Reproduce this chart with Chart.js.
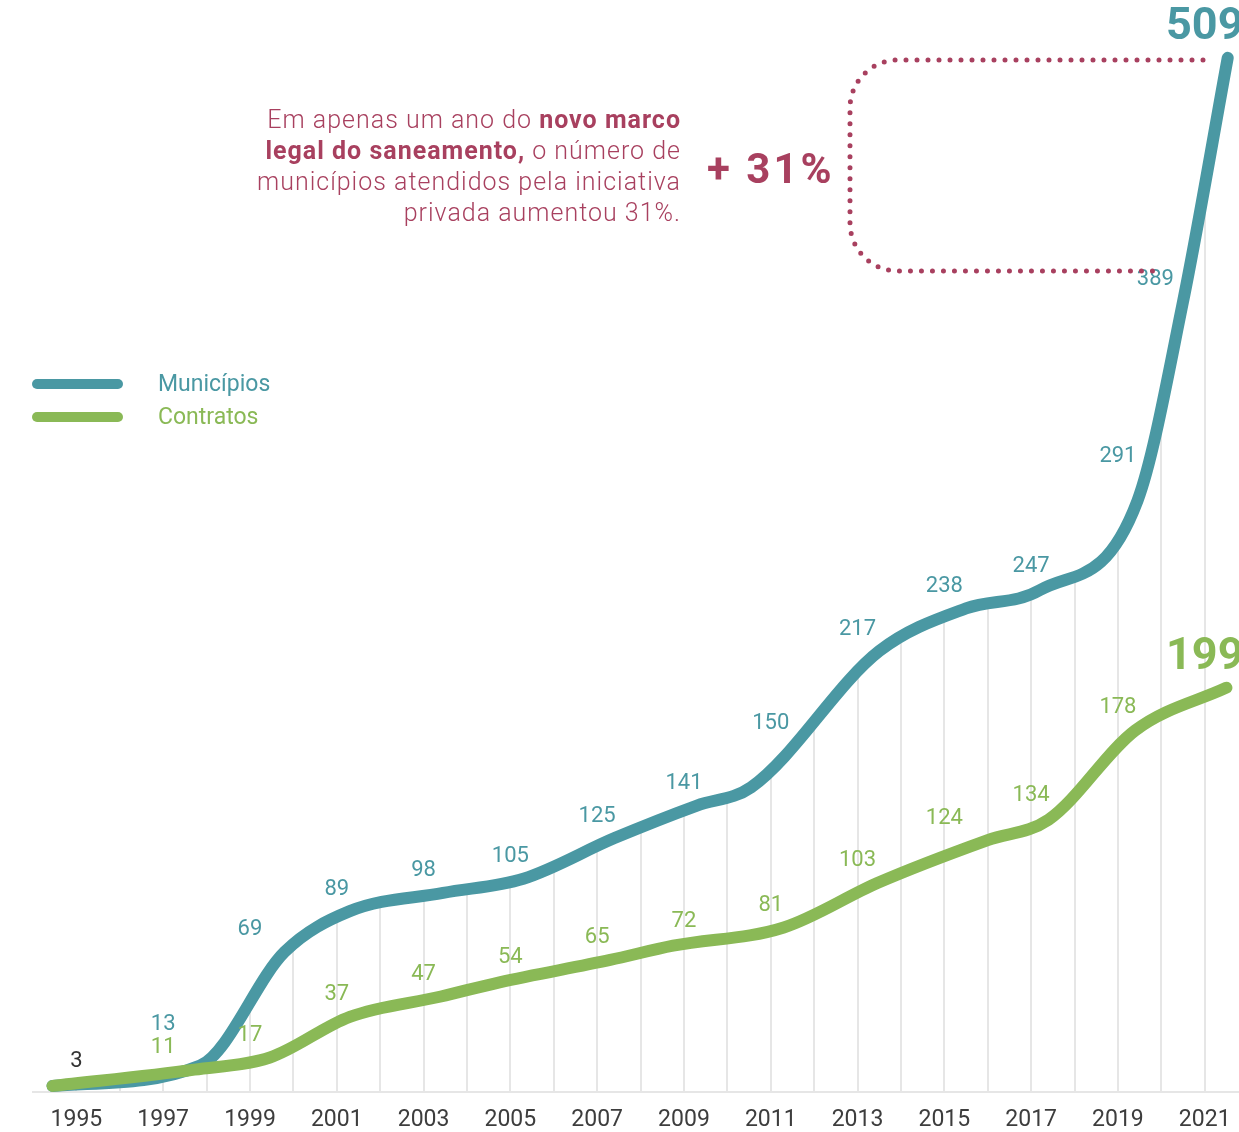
<!DOCTYPE html>
<html lang="pt-BR">
<head>
<meta charset="UTF-8">
<title>Municípios e contratos</title>
<style>
  html, body { margin: 0; padding: 0; background: #fff; }
  #chart { display: block; }
</style>
</head>
<body>
<canvas id="chart" width="1239" height="1132"></canvas>
<script src="https://cdn.jsdelivr.net/npm/chart.js@4.4.1/dist/chart.umd.min.js"></script>
<script>
// years that carry a value label
const years = [1995, 1997, 1999, 2001, 2003, 2005, 2007, 2009, 2011, 2013, 2015, 2017, 2019, 2020, 2021];
const municipios = [3, 13, 69, 89, 98, 105, 125, 141, 150, 217, 238, 247, 291, 389, 509];
const contratos = [3, 11, 17, 37, 47, 54, 65, 72, 81, 103, 124, 134, 178, null, 199];
// where along the time axis each curve reaches the value above
const municipiosAt = [1994.45, 1997.85, 1999.8, 2001.3, 2003.45, 2005.3, 2007.4, 2009.3, 2010.55, 2013.5, 2015.5, 2017.2, 2019.45, 2020.5, 2021.53];
const contratosAt = [1994.45, 1997.72, 1999.46, 2001.3, 2003.4, 2004.75, 2007.3, 2008.75, 2011.3, 2013.47, 2016.0, 2017.4, 2019.4, null, 2021.5];

const TEAL = '#4a98a3';
const GREEN = '#8ab956';
const WINE = '#a8405f';

const toPoints = (at, vals) => vals
  .map((v, i) => (v === null ? null : { x: at[i], y: v }))
  .filter(p => p);

const curveY = (line, px) => {
  const p = line.interpolate({ x: px }, 'x');
  return p && !Array.isArray(p) ? p.y : null;
};

// true when a label box centred at (px, ly) stays off the line
const clearOf = (line, px, ly, w) => {
  for (let sx = px - w / 2 - 10; sx <= px + w / 2 + 10; sx += 1) {
    const cy = curveY(line, sx);
    if (cy !== null && Math.abs(cy - ly) < 15) return false;
  }
  return true;
};

// labels sit over the year tick, just above the curve; nudged up or left if they touch it
const valueLabels = {
  id: 'valueLabels',
  afterDatasetsDraw(chart) {
    const { ctx, scales: { x, y } } = chart;
    const lineM = chart.getDatasetMeta(0).dataset;
    const lineC = chart.getDatasetMeta(1).dataset;
    const last = years.length - 1;

    const place = (line, px, v, big, font) => {
      const py = y.getPixelForValue(v);
      const cy = curveY(line, px);
      let ly = (cy !== null ? Math.min(py, cy) : py) - (big ? 30 : 22);
      if (big) return [px, ly];
      ctx.font = font;
      const w = ctx.measureText(String(v)).width;
      let up = 0, left = 0;
      while (up < 40 && !clearOf(line, px, ly - up, w)) up++;
      while (left < 40 && !clearOf(line, px - left, ly, w)) left++;
      return up <= left * 4 ? [px, ly - up] : [px - left, ly];
    };

    ctx.save();
    ctx.textAlign = 'center';
    ctx.textBaseline = 'middle';
    const greenY = {};
    years.forEach((yr, i) => {
      const v = contratos[i];
      if (v === null) return;
      const px = x.getPixelForValue(yr);
      const big = i === last;
      const font = big ? 'bold 45px Roboto' : '22px Roboto';
      const [lx, ly] = place(lineC, px, v, big, font);
      ctx.font = font;
      ctx.fillStyle = i === 0 ? '#333' : GREEN;
      ctx.fillText(String(v), lx, ly);
      greenY[yr] = ly;
    });
    years.forEach((yr, i) => {
      if (i === 0) return; // the starting value is shared by both series
      const v = municipios[i];
      const px = x.getPixelForValue(yr);
      const big = i === last;
      const font = big ? 'bold 45px Roboto' : '22px Roboto';
      let [lx, ly] = place(lineM, px, v, big, font);
      if (greenY[yr] !== undefined && ly > greenY[yr] - 23) ly = greenY[yr] - 23;
      ctx.font = font;
      ctx.fillStyle = TEAL;
      ctx.fillText(String(v), lx, ly);
    });
    ctx.restore();
  }
};

// legend on the left plus the note and dotted bracket at the top
const decorations = {
  id: 'decorations',
  afterDraw(chart) {
    const { ctx } = chart;
    ctx.save();

    chart.data.datasets.forEach((ds, i) => {
      const ly = 384 + i * 33;
      ctx.strokeStyle = ds.borderColor;
      ctx.lineWidth = 10;
      ctx.lineCap = 'round';
      ctx.beginPath();
      ctx.moveTo(37, ly);
      ctx.lineTo(118, ly);
      ctx.stroke();
      ctx.fillStyle = ds.borderColor;
      ctx.font = '23px Roboto';
      ctx.textAlign = 'left';
      ctx.textBaseline = 'middle';
      ctx.fillText(ds.label, 158, ly + 1);
    });

    const note = [
      [['Em apenas um ano do ', false], ['novo marco', true]],
      [['legal do saneamento,', true], [' o número de', false]],
      [['municípios atendidos pela iniciativa', false]],
      [['privada aumentou 31%.', false]]
    ];
    const right = 681;
    ctx.fillStyle = WINE;
    ctx.textBaseline = 'alphabetic';
    ctx.textAlign = 'left';
    ctx.letterSpacing = '1px';
    const fontOf = b => (b ? 'bold 25px Roboto' : '300 25px Roboto');
    note.forEach((runs, li) => {
      const base = 128 + li * 31;
      let total = 0;
      runs.forEach(([t, b]) => { ctx.font = fontOf(b); total += ctx.measureText(t).width; });
      let cx = right - total;
      runs.forEach(([t, b]) => {
        ctx.font = fontOf(b);
        ctx.fillText(t, cx, base);
        cx += ctx.measureText(t).width;
      });
    });

    ctx.font = 'bold 42px Roboto';
    ctx.letterSpacing = '3px';
    ctx.fillText('+ 31%', 707, 183);
    ctx.letterSpacing = '0px';

    ctx.strokeStyle = WINE;
    ctx.lineWidth = 5;
    ctx.lineCap = 'round';
    ctx.setLineDash([0, 11]);
    ctx.beginPath();
    ctx.moveTo(1203, 60);
    ctx.lineTo(898, 60);
    ctx.arcTo(850, 60, 850, 108, 48);
    ctx.lineTo(850, 223);
    ctx.arcTo(850, 271, 898, 271, 48);
    ctx.lineTo(1156, 271);
    ctx.stroke();

    ctx.restore();
  }
};

new Chart(document.getElementById('chart'), {
  type: 'line',
  data: {
    datasets: [
      {
        label: 'Municípios',
        data: toPoints(municipiosAt, municipios),
        borderColor: TEAL,
        backgroundColor: '#ffffff',
        fill: 'end',   // white above the curve hides the year lines there
        order: 1
      },
      {
        label: 'Contratos',
        data: toPoints(contratosAt, contratos),
        borderColor: GREEN,
        fill: false,
        order: 0
      }
    ]
  },
  options: {
    responsive: false,
    animation: false,
    events: [],
    layout: { padding: { left: 33, right: 0, top: 5, bottom: 0 } },
    elements: {
      line: {
        borderWidth: 12,
        borderCapStyle: 'round',
        borderJoinStyle: 'round',
        cubicInterpolationMode: 'monotone'
      },
      point: { radius: 0 }
    },
    scales: {
      x: {
        type: 'linear',
        min: 1994,
        max: 2021.79,
        afterFit(s) { s.height = 40; s.paddingLeft = 0; s.paddingRight = 0; },
        grid: {
          drawTicks: false,
          lineWidth: 2,
          color: c => (c.tick && c.tick.value >= 1995 && Number.isInteger(c.tick.value)) ? '#e6e6e6' : 'rgba(0,0,0,0)'
        },
        border: { display: true, color: '#e6e6e6', width: 2 },
        ticks: {
          stepSize: 1,
          includeBounds: false,
          autoSkip: false,
          maxRotation: 0,
          minRotation: 0,
          padding: 14,
          color: '#3d3d3d',
          font: { family: 'Roboto', size: 23 },
          callback: v => (Number.isInteger(v) && v >= 1995 && v % 2 === 1) ? String(v) : ''
        }
      },
      y: {
        display: false,
        min: 0,
        max: 535
      }
    },
    plugins: {
      legend: { display: false },
      tooltip: { enabled: false }
    }
  },
  plugins: [valueLabels, decorations]
});
</script>
</body>
</html>
